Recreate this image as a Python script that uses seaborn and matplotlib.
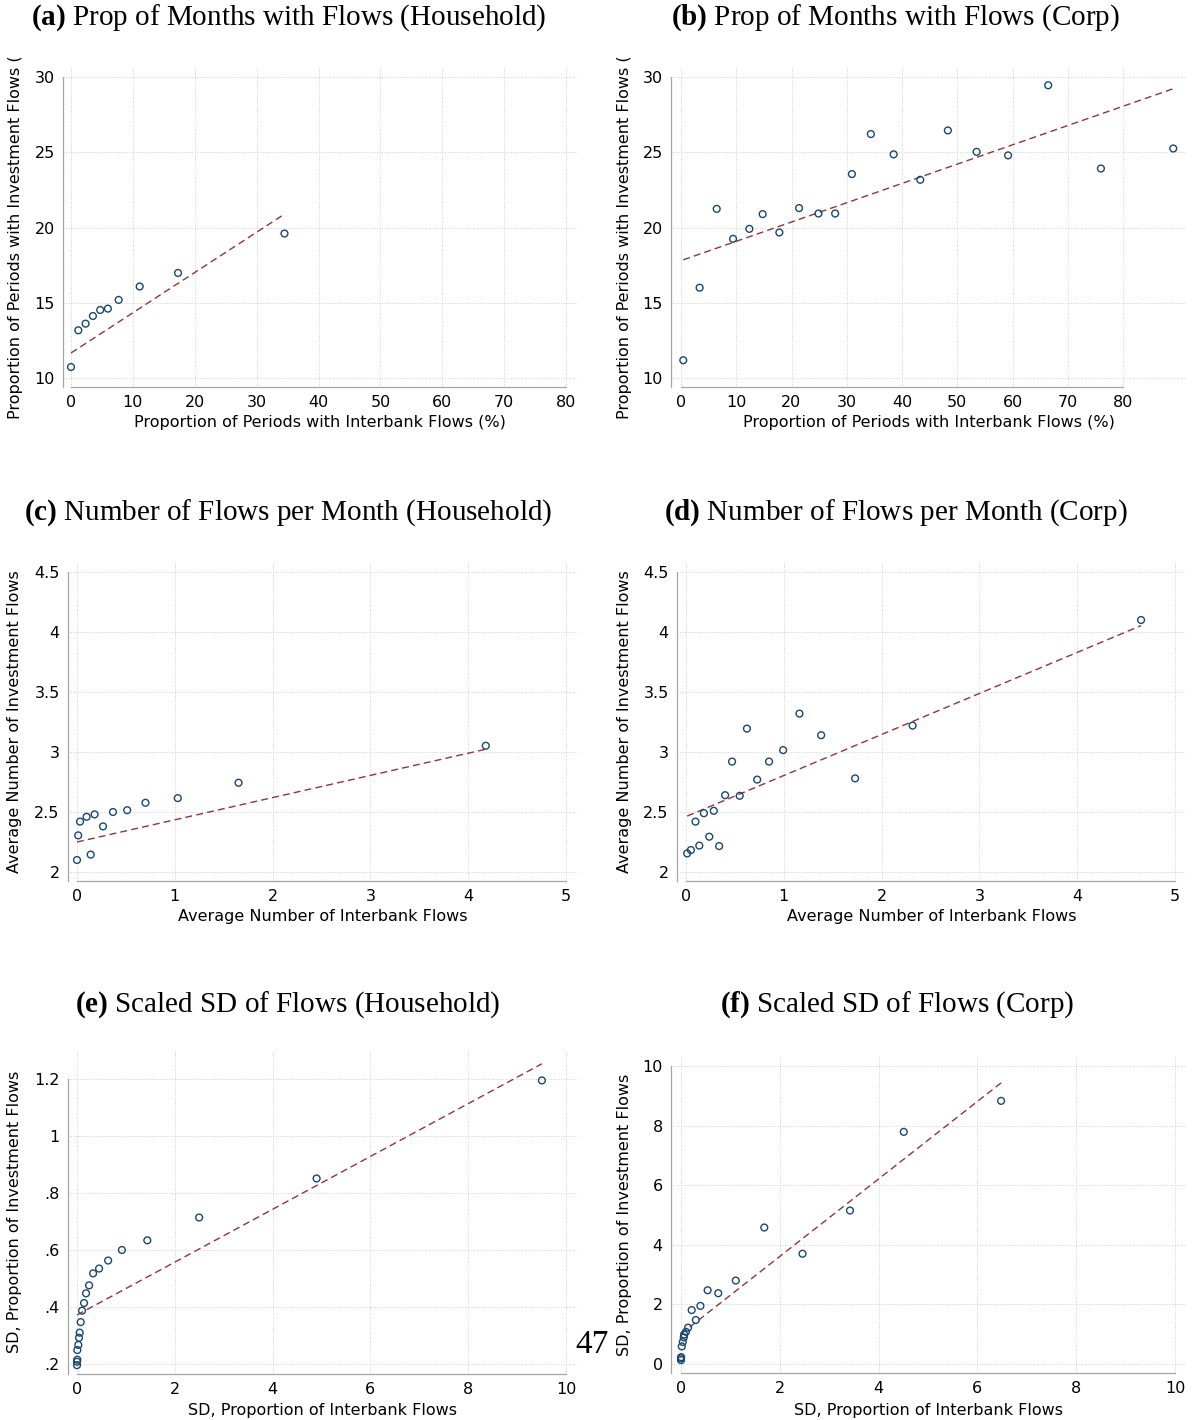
import numpy as np
import pandas as pd
import matplotlib
matplotlib.use("Agg")
import matplotlib.pyplot as plt
from matplotlib.ticker import FixedLocator, FuncFormatter
from matplotlib.transforms import Bbox, TransformedBbox
import seaborn as sns

#################
# read-off data #
#################

# (a) share of months with flows, household
hh_prop_x = [0.0, 1.18, 2.36, 3.54, 4.72, 5.96, 7.7, 11.1, 17.3, 34.5]
hh_prop_y = [10.73, 13.17, 13.61, 14.12, 14.52, 14.61, 15.19, 16.08, 16.98, 19.6]
hh_prop_fit = (11.66, 0.2675)  # intercept, slope

# (b) share of months with flows, corp
corp_prop_x = [0.41, 3.37, 6.46, 9.42, 12.37, 14.78, 17.8, 21.37, 24.88, 27.9,
               30.93, 34.36, 38.49, 43.3, 48.3, 53.5, 59.2, 66.46, 76.0, 89.1]
corp_prop_y = [11.18, 16.0, 21.24, 19.25, 19.91, 20.89, 19.67, 21.29, 20.93, 20.93,
               23.55, 26.21, 24.86, 23.17, 26.45, 25.03, 24.79, 29.45, 23.92, 25.25]
corp_prop_fit = (17.80, 0.1282)

# (c) number of flows per month, household
hh_num_x = [0.0, 0.012, 0.031, 0.098, 0.14, 0.18, 0.266, 0.368, 0.513, 0.70, 1.03, 1.652, 4.18]
hh_num_y = [2.10, 2.305, 2.42, 2.46, 2.145, 2.48, 2.38, 2.50, 2.515, 2.577, 2.616, 2.744, 3.052]
hh_num_fit = (2.25, 0.185)

# (d) number of flows per month, corp
corp_num_x = [0.012, 0.05, 0.097, 0.136, 0.183, 0.238, 0.284, 0.339, 0.40, 0.471,
              0.549, 0.623, 0.728, 0.849, 0.993, 1.16, 1.382, 1.729, 2.317, 4.653]
corp_num_y = [2.155, 2.183, 2.42, 2.22, 2.49, 2.294, 2.51, 2.216, 2.64, 2.92,
              2.635, 3.195, 2.77, 2.92, 3.016, 3.32, 3.14, 2.78, 3.22, 4.10]
corp_num_fit = (2.462, 0.342)

# (e) scaled SD of flows, household
hh_sd_x = [0.0, 0.0, 0.007, 0.007, 0.027, 0.041, 0.055, 0.075, 0.103, 0.144,
           0.185, 0.247, 0.329, 0.452, 0.637, 0.918, 1.438, 2.498, 4.90, 9.507]
hh_sd_y = [0.196, 0.208, 0.215, 0.249, 0.267, 0.292, 0.31, 0.347, 0.387, 0.414,
           0.448, 0.476, 0.518, 0.535, 0.563, 0.60, 0.634, 0.714, 0.851, 1.195]
hh_sd_fit = (0.372, 0.0927)

# (f) scaled SD of flows, corp
corp_sd_x = [0.0, 0.0, 0.003, 0.016, 0.036, 0.056, 0.063, 0.10, 0.143, 0.216,
             0.30, 0.393, 0.539, 0.754, 1.109, 1.686, 2.46, 3.42, 4.51, 6.48]
corp_sd_y = [0.13, 0.19, 0.23, 0.59, 0.74, 0.89, 0.99, 1.08, 1.22, 1.81,
             1.476, 1.95, 2.475, 2.375, 2.80, 4.58, 3.70, 5.15, 7.79, 8.83]
corp_sd_fit = (1.01, 1.30)

titles = ["(a)", "(b)", "(c)", "(d)", "(e)", "(f)"]
title_text = ["Prop of Months with Flows (Household)", "Prop of Months with Flows (Corp)",
              "Number of Flows per Month (Household)", "Number of Flows per Month (Corp)",
              "Scaled SD of Flows (Household)", "Scaled SD of Flows (Corp)"]
xlabels = ["Proportion of Periods with Interbank Flows (%)"] * 2 + \
          ["Average Number of Interbank Flows"] * 2 + \
          ["SD, Proportion of Interbank Flows"] * 2
ylabels = ["Proportion of Periods with Investment Flows (%)"] * 2 + \
          ["Average Number of Investment Flows"] * 2 + \
          ["SD, Proportion of Investment Flows"] * 2

prop_xticks = [0, 10, 20, 30, 40, 50, 60, 70, 80]
prop_yticks = [10, 15, 20, 25, 30]
num_xticks = [0, 1, 2, 3, 4, 5]
num_yticks = [2, 2.5, 3, 3.5, 4, 4.5]
sd_xticks = [0, 2, 4, 6, 8, 10]
hh_sd_yticks = [0.2, 0.4, 0.6, 0.8, 1.0, 1.2]
corp_sd_yticks = [0, 2, 4, 6, 8, 10]

page_number = "47"

panels = [
    (hh_prop_x, hh_prop_y, hh_prop_fit, prop_xticks, prop_yticks),
    (corp_prop_x, corp_prop_y, corp_prop_fit, prop_xticks, prop_yticks),
    (hh_num_x, hh_num_y, hh_num_fit, num_xticks, num_yticks),
    (corp_num_x, corp_num_y, corp_num_fit, num_xticks, num_yticks),
    (hh_sd_x, hh_sd_y, hh_sd_fit, sd_xticks, hh_sd_yticks),
    (corp_sd_x, corp_sd_y, corp_sd_fit, sd_xticks, corp_sd_yticks),
]

##########
# layout #
##########
W, H = 1196, 1420
# pixel box (left, right, top, bottom), x calib, y calib, title centre, ylabel x, xlabel y
layout = [
    ((63, 577, 66, 387), ((0, 71), (80, 566)), ((10, 378), (30, 77)), (289, 18), 16, 423),
    ((671, 1186, 66, 387), ((0, 681), (80, 1123)), ((10, 378), (30, 77)), (896, 18), 624, 423),
    ((68, 577, 562, 881), ((0, 77), (5, 566)), ((2, 872), (4.5, 572)), (288, 513), 15, 917),
    ((677, 1186, 562, 881), ((0, 686), (5, 1175)), ((2, 872), (4.5, 572)), (896, 513), 624, 917),
    ((68, 577, 1050, 1374), ((0, 77), (10, 566)), ((0.2, 1364), (1.2, 1079)), (288, 1005), 15, 1410),
    ((671, 1186, 1056, 1373), ((0, 681), (10, 1175)), ((0, 1364), (10, 1066)), (897, 1005), 624, 1410),
]

NAVY = "#1a476f"
MAROON = "#90353b"
AXGREY = "#a6a6a6"

sns.set_style("white")
plt.rcParams["font.family"] = ["DejaVu Sans"]
plt.rcParams["text.color"] = "black"
plt.rcParams["axes.labelcolor"] = "black"
plt.rcParams["mathtext.fontset"] = "custom"
plt.rcParams["mathtext.rm"] = "Liberation Serif"
plt.rcParams["mathtext.bf"] = "Liberation Serif:bold"

fig = plt.figure(figsize=(W / 100, H / 100), dpi=100)


def stata_fmt(v, _pos=None):
    s = f"{v:g}"
    if s.startswith("0."):
        s = s[1:]
    return s


def px_to_data(p, cal):
    (v0, p0), (v1, p1) = cal
    return v0 + (p - p0) * (v1 - v0) / (p1 - p0)


for i, ((xs, ys, fit, xt, yt), lay) in enumerate(zip(panels, layout)):
    (l, r, t, b), xcal, ycal, tpos, ylx, xly = lay
    ax = fig.add_axes([l / W, 1 - b / H, (r - l) / W, (b - t) / H])
    ax.set_xlim(px_to_data(l, xcal), px_to_data(r, xcal))
    ax.set_ylim(px_to_data(b, ycal), px_to_data(t, ycal))

    df = pd.DataFrame({"x": xs, "y": ys})
    xline = np.array([min(xs), max(xs)])
    fit_df = pd.DataFrame({"x": xline, "y": fit[0] + fit[1] * xline})

    ax.grid(True, linestyle=(0, (1, 1.6)), color="#d0d0d0", linewidth=0.7)
    ax.set_axisbelow(True)
    sns.lineplot(data=fit_df, x="x", y="y", ax=ax, color=MAROON, linewidth=1.0,
                 dashes=False, zorder=2)
    ax.lines[-1].set_linestyle((0, (5, 3)))
    sns.scatterplot(data=df, x="x", y="y", ax=ax, marker="o", s=24,
                    facecolors="none", edgecolors=NAVY, linewidth=1.0, zorder=3)

    ax.xaxis.set_major_locator(FixedLocator(xt))
    ax.yaxis.set_major_locator(FixedLocator(yt))
    ax.xaxis.set_major_formatter(FuncFormatter(stata_fmt))
    ax.yaxis.set_major_formatter(FuncFormatter(stata_fmt))

    for side in ["top", "right"]:
        ax.spines[side].set_visible(False)
    for side in ["left", "bottom"]:
        ax.spines[side].set_color(AXGREY)
        ax.spines[side].set_linewidth(0.9)
    ax.spines["bottom"].set_bounds(xt[0], xt[-1])
    ax.spines["left"].set_bounds(ax.get_ylim()[0], yt[-1])
    ax.tick_params(axis="both", direction="out", length=3.5, width=0.8, color=AXGREY,
                   labelsize=11.5, labelcolor="black", pad=2.5)

    ax.set_xlabel(xlabels[i], fontsize=11.5)
    ax.set_ylabel(ylabels[i], fontsize=11.5)
    ax.xaxis.set_label_coords(((l + r) / 2) / W, 1 - xly / H, transform=fig.transFigure)
    ax.yaxis.set_label_coords(ylx / W, 1 - ((t + b) / 2) / H, transform=fig.transFigure)
    ax.xaxis.label.set_va("center")
    ax.yaxis.label.set_va("center")
    # long labels get cut at the top of the graph region
    clip = TransformedBbox(Bbox.from_extents(0, 0, 1, 1 - (t - 9) / H), fig.transFigure)
    ax.yaxis.label.set_clip_box(clip)
    ax.yaxis.label.set_clip_on(True)

    fig.text(tpos[0] / W, 1 - tpos[1] / H,
             r"$\mathbf{" + titles[i] + "}$ " + title_text[i],
             ha="center", va="center", fontsize=21, family="Liberation Serif",
             color="black")

fig.text(592 / W, 1 - 1345 / H, page_number, ha="center", va="center",
         fontsize=24, family="Liberation Serif")

fig.savefig("out.png", dpi=100)
